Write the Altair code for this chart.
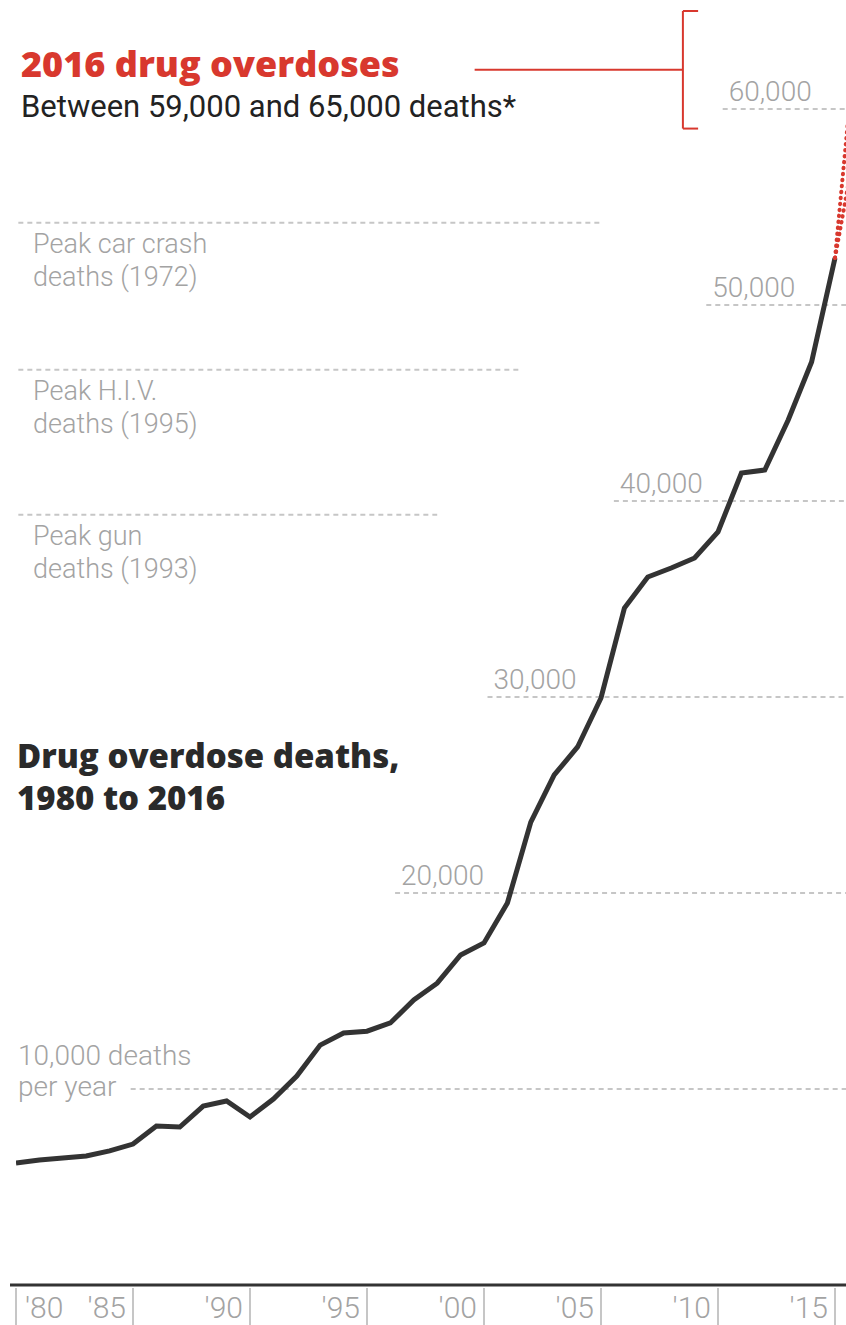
import altair as alt
import pandas as pd

# Annual drug overdose deaths in the U.S., 1980-2015
years = list(range(1980, 2016))
deaths = [6220, 6380, 6480, 6580, 6840, 7190, 8110, 8060, 9130, 9390,
          8570, 9490, 10660, 12240, 12860, 12950, 13370, 14540, 15400, 16840,
          17450, 19490, 23620, 26020, 27450, 29950, 34540, 36120, 36580, 37090,
          38420, 41430, 41580, 44130, 47090, 52400]

# 2016 preliminary estimate range
est_year = 2016
est_low = 59000
est_high = 65000

# Reference peaks for other causes of death
peak_labels = ["Peak car crash\ndeaths (1972)", "Peak H.I.V.\ndeaths (1995)", "Peak gun\ndeaths (1993)"]
peak_values = [54200, 46700, 39300]
peak_ends = [2005.1, 2001.6, 1998.0]

# Gridlines: value, where the dashed line starts, label
grid_values = [10000, 20000, 30000, 40000, 50000, 60000]
grid_starts = [1984.9, 1996.2, 2000.15, 2005.55, 2009.5, 2010.2]
grid_labels = ["", "20,000", "30,000", "40,000", "50,000", "60,000"]

tick_years = [1980, 1985, 1990, 1995, 2000, 2005, 2010, 2015]
tick_labels = ["'80", "'85", "'90", "'95", "'00", "'05", "'10", "'15"]

FONT = "Roboto"
BOLD_FONT = "Open Sans"
GREY = "#a3a3a3"
RED = "#d8382e"
W, H = 830, 1285
X_MAX = 1980 + W / 23.4
Y_MAX = 65560

xs = alt.Scale(domain=[1980, X_MAX], nice=False, zero=False)
ys = alt.Scale(domain=[0, Y_MAX], nice=False, zero=True)

def X(f):
    return alt.X(f, type="quantitative", scale=xs, axis=None)

def Y(f):
    return alt.Y(f, type="quantitative", scale=ys, axis=None)

main = pd.DataFrame({"year": years, "deaths": deaths})
fan = pd.DataFrame({
    "year": [years[-1], est_year, years[-1], est_year],
    "deaths": [deaths[-1], est_low, deaths[-1], est_high],
    "series": ["low", "low", "high", "high"],
})
peaks = pd.DataFrame({"label": peak_labels, "value": peak_values, "end": peak_ends, "start": [1980.1] * 3})
grid = pd.DataFrame({"value": grid_values, "start": grid_starts, "label": grid_labels})
ticks = pd.DataFrame({"year": tick_years, "label": tick_labels})
bracket = pd.DataFrame({"x": [2008.5], "lo": [est_low], "hi": [est_high],
                        "mid": [(est_low + est_high) / 2], "tip": [2009.15], "from": [1999.6]})

grid_rules = alt.Chart(grid).mark_rule(color="#c6c6c6", strokeWidth=2, strokeDash=[5, 4]).encode(
    x=X("start"), x2=alt.value(W), y=Y("value"))
grid_text = alt.Chart(grid).mark_text(align="left", baseline="alphabetic", dx=6, dy=-8,
                                      font=FONT, fontWeight=300, fontSize=28, color=GREY).encode(
    x=X("start"), y=Y("value"), text="label:N")

ten_k = pd.DataFrame({"value": [10000], "top": ["10,000 deaths"], "bottom": ["per year"]})
ten_top = alt.Chart(ten_k).mark_text(align="left", baseline="middle", dy=-32, font=FONT, fontWeight=300,
                                     fontSize=28, color=GREY).encode(
    x=alt.value(2), y=Y("value"), text="top:N")
ten_bot = alt.Chart(ten_k).mark_text(align="left", baseline="middle", dy=-1, font=FONT, fontWeight=300,
                                     fontSize=28, color=GREY).encode(
    x=alt.value(2), y=Y("value"), text="bottom:N")

peak_rules = alt.Chart(peaks).mark_rule(color="#c6c6c6", strokeWidth=2, strokeDash=[5, 4]).encode(
    x=X("start"), x2=alt.X2("end"), y=Y("value"))
peak_text = alt.Chart(peaks).mark_text(align="left", baseline="top", dy=9, lineBreak="\n", lineHeight=33,
                                       font=FONT, fontWeight=300, fontSize=27, color=GREY).encode(
    x=alt.value(17), y=Y("value"), text="label:N")

line = alt.Chart(main).mark_line(color="#333333", strokeWidth=5, clip=True).encode(
    x=X("year"), y=Y("deaths"))
fan_lines = alt.Chart(fan).mark_line(color=RED, strokeWidth=4, strokeDash=[0.5, 5.5], strokeCap="round",
                                     clip=True).encode(
    x=X("year"), y=Y("deaths"), detail="series:N")

br_v = alt.Chart(bracket).mark_rule(color=RED, strokeWidth=2).encode(x=X("x"), y=Y("lo"), y2=alt.Y2("hi"))
br_top = alt.Chart(bracket).mark_rule(color=RED, strokeWidth=2).encode(x=X("x"), x2=alt.X2("tip"), y=Y("hi"))
br_bot = alt.Chart(bracket).mark_rule(color=RED, strokeWidth=2).encode(x=X("x"), x2=alt.X2("tip"), y=Y("lo"))
br_mid = alt.Chart(bracket).mark_rule(color=RED, strokeWidth=2).encode(x=X("from"), x2=alt.X2("x"), y=Y("mid"))

head = alt.Chart(pd.DataFrame({"t": ["2016 drug overdoses"]})).mark_text(
    align="left", baseline="middle", font=BOLD_FONT, fontWeight=800, fontSize=36, color=RED).encode(
    x=alt.value(5), y=alt.value(66), text="t:N")
sub = alt.Chart(pd.DataFrame({"t": [f"Between {est_low:,} and {est_high:,} deaths*"]})).mark_text(
    align="left", baseline="middle", font=FONT, fontSize=31, color="#222222").encode(
    x=alt.value(5), y=alt.value(108), text="t:N")
title = alt.Chart(pd.DataFrame({"t": ["Drug overdose deaths,\n1980 to 2016"]})).mark_text(
    align="left", baseline="middle", lineBreak="\n", lineHeight=42, font=BOLD_FONT, fontWeight=800,
    fontSize=33, color="#2a2a2a").encode(
    x=alt.value(1), y=alt.value(758), text="t:N")

baseline = alt.Chart(pd.DataFrame({"v": [0]})).mark_rule(color="#333333", strokeWidth=3).encode(
    x=alt.value(-6), x2=alt.value(W), y=Y("v"))
tick_rules = alt.Chart(ticks).mark_rule(color="#c6c6c6", strokeWidth=2).encode(
    x=X("year"), y=alt.value(H + 3), y2=alt.value(H + 40))
tick_first = alt.Chart(ticks).transform_filter("datum.year == 1980").mark_text(
    align="left", baseline="middle", dx=9, font=FONT, fontWeight=300, fontSize=30, color=GREY).encode(
    x=X("year"), y=alt.value(H + 24), text="label:N")
tick_rest = alt.Chart(ticks).transform_filter("datum.year > 1980").mark_text(
    align="right", baseline="middle", dx=-7, font=FONT, fontWeight=300, fontSize=30, color=GREY).encode(
    x=X("year"), y=alt.value(H + 24), text="label:N")

chart = alt.layer(
    grid_rules, grid_text, ten_top, ten_bot, peak_rules, peak_text,
    br_v, br_top, br_bot, br_mid,
    line, fan_lines, head, sub, title,
    baseline, tick_rules, tick_first, tick_rest,
).properties(
    width=W, height=H,
    autosize=alt.AutoSizeParams(type="none"),
    padding={"left": 16, "right": 0, "top": 0, "bottom": 40},
    background="white",
).configure_view(stroke=None)

chart.save("out.html", embed_options={"renderer": "svg", "actions": False})
